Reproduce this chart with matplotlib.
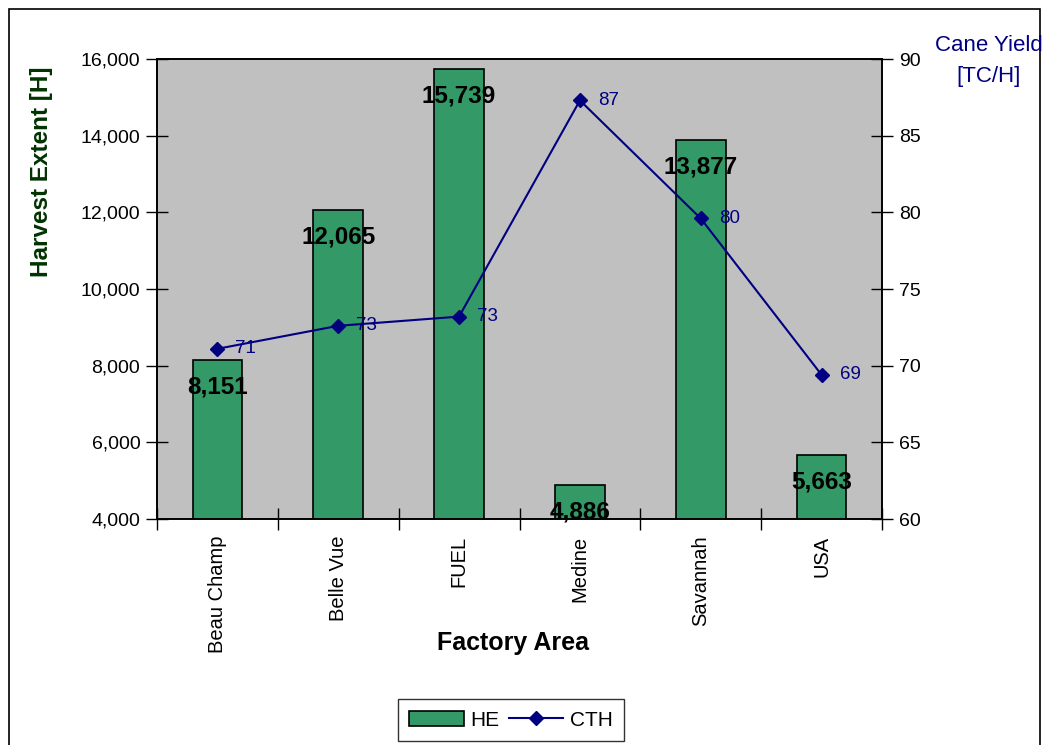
import matplotlib
matplotlib.use("Agg")
import matplotlib.pyplot as plt
from matplotlib.patches import Rectangle
from matplotlib.lines import Line2D
from matplotlib import font_manager
import numpy as np

categories = ["Beau Champ", "Belle Vue", "FUEL", "Medine", "Savannah", "USA"]
he_values = [8151, 12065, 15739, 4886, 13877, 5663]
cth_values = [71.1, 72.6, 73.2, 87.3, 79.6, 69.4]
left_ticks = [4000, 6000, 8000, 10000, 12000, 14000, 16000]
right_ticks = [60, 65, 70, 75, 80, 85, 90]

names = {f.name for f in font_manager.fontManager.ttflist}
narrow = [n for n in ["Liberation Sans Narrow", "DejaVu Sans Condensed"] if n in names] + ["Liberation Sans", "DejaVu Sans"]
sans = ["Liberation Sans", "DejaVu Sans"]

fig = plt.figure(figsize=(10.48, 7.45), dpi=100)
W, H = 1048, 745
ax = fig.add_axes([157 / W, 1 - 519 / H, (882 - 157) / W, (519 - 59) / H])
ax.set_facecolor("#C0C0C0")

x = np.arange(len(categories))
ax.bar(x, he_values, width=0.41, color="#339966", edgecolor="black", linewidth=1.2, zorder=2)
ax.set_ylim(4000, 16000)
ax.set_xlim(-0.5, len(categories) - 0.5)
ax.set_yticks(left_ticks)
ax.set_yticklabels([f"{v:,}" for v in left_ticks], fontfamily=narrow, fontsize=14)
ax.set_xticks(x)
ax.set_xticklabels(categories, rotation=90, fontfamily=sans, fontsize=14.5)
ax.tick_params(axis="x", length=0, pad=12)
ax.set_xticks(np.arange(len(categories) + 1) - 0.5, minor=True)
ax.tick_params(axis="x", which="minor", direction="inout", length=16, width=1)
ax.tick_params(axis="y", direction="inout", length=16, width=1, pad=4)
for s in ax.spines.values():
    s.set_linewidth(1.2)

for xi, v in zip(x, he_values):
    ax.annotate(f"{v:,}", (xi, v), xytext=(0, -11), textcoords="offset points",
                ha="center", va="top", fontsize=17.5, fontweight="bold",
                fontfamily=sans, color="black", zorder=5)

fig.text(42 / W, 1 - 172 / H, "Harvest Extent [H]", rotation=90, ha="center", va="center",
         fontsize=17.5, fontweight="bold", color="#003300", fontfamily=sans)
fig.text(513 / W, 1 - 643 / H, "Factory Area", ha="center", va="center",
         fontsize=18, fontweight="bold", fontfamily=sans, color="black")

ax2 = ax.twinx()
ax2.plot(x, cth_values, color="#000080", marker="D", markersize=7, linewidth=1.5, zorder=4)
ax2.set_ylim(60, 90)
ax2.set_yticks(right_ticks)
ax2.set_yticklabels([str(v) for v in right_ticks], fontfamily=narrow, fontsize=14)
ax2.tick_params(axis="y", direction="inout", length=16, width=1, pad=4)
for s in ax2.spines.values():
    s.set_linewidth(1.2)
for xi, v in zip(x, cth_values):
    ax2.annotate(f"{v:.0f}", (xi, v), xytext=(13, 0), textcoords="offset points",
                 ha="left", va="center", fontsize=13.5, fontfamily=narrow, color="#000080")

fig.text(989 / W, 1 - 61 / H, "Cane Yield\n[TC/H]", ha="center", va="center",
         fontsize=16, fontfamily=narrow, color="#000080", linespacing=1.65)

# outer frame
fig.add_artist(Rectangle((9 / W, -0.01), (1040 - 9) / W, 1 - 9 / H + 0.01,
                         transform=fig.transFigure, fill=False, edgecolor="black", linewidth=1.2))

handles = [Rectangle((0, 0), 1, 1, facecolor="#339966", edgecolor="black", linewidth=1.2),
           Line2D([0], [0], color="#000080", marker="D", markersize=7, linewidth=1.5)]
leg = fig.legend(handles, ["HE", "CTH"], loc="center", bbox_to_anchor=(511 / W, 1 - 720 / H),
                 ncol=2, frameon=True, fancybox=False, edgecolor="black",
                 prop={"family": narrow, "size": 15}, handlelength=2.6, columnspacing=0.5,
                 handletextpad=0.3, borderpad=0.55)
leg.get_frame().set_linewidth(1.0)

fig.savefig("out.png", dpi=100)
